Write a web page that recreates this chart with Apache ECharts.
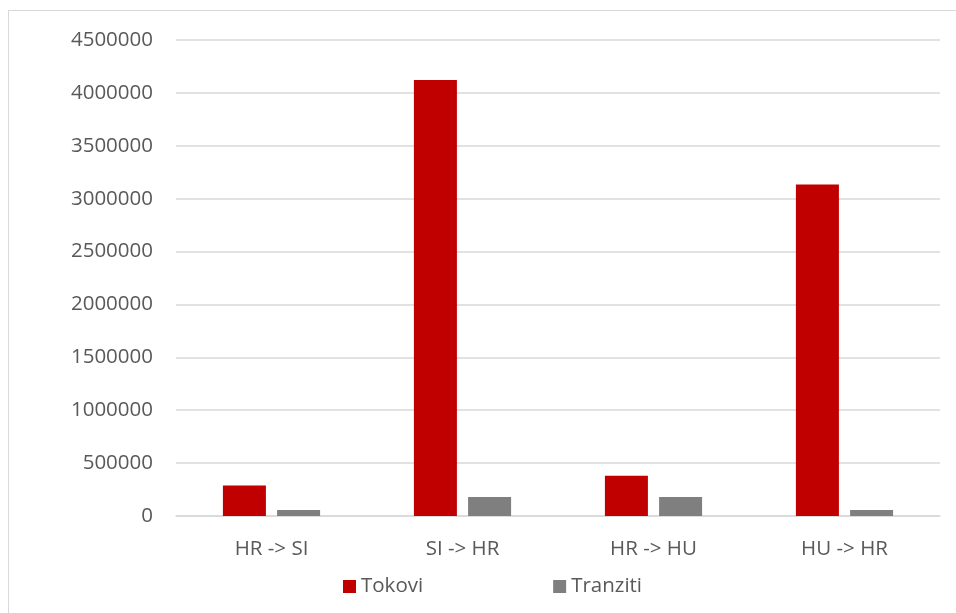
<!DOCTYPE html>
<html>
<head>
<meta charset="utf-8">
<script src="https://cdn.jsdelivr.net/npm/echarts@6/dist/echarts.min.js"></script>
<style>
html,body{margin:0;padding:0;background:#fff;}
#wrap{position:relative;width:956px;height:613px;}
#frame{position:absolute;left:8px;top:10px;width:960px;height:620px;border-left:1.5px solid #d9d9d9;border-top:1.5px solid #d9d9d9;box-sizing:border-box;}
#chart{position:absolute;left:0;top:0;width:956px;height:613px;}
</style>
</head>
<body>
<div id="wrap"><div id="frame"></div><div id="chart"></div></div>
<script>
const categories = ['HR -> SI', 'SI -> HR', 'HR -> HU', 'HU -> HR'];
const tokovi = [288000, 4123000, 380000, 3135000];
const tranziti = [57000, 180000, 180000, 57000];
const seriesNames = ['Tokovi', 'Tranziti'];

const font = '"Open Sans", sans-serif';
const chart = echarts.init(document.getElementById('chart'), null, {renderer: 'canvas'});
chart.setOption({
  animation: false,
  backgroundColor: 'transparent',
  grid: {left: 176, right: 16, top: 40, bottom: 97, containLabel: false},
  legend: {
    data: seriesNames,
    left: 343, top: 576, padding: 0,
    itemWidth: 13, itemHeight: 13, itemGap: 130,
    icon: 'rect',
    textStyle: {color: '#595959', fontSize: 20.5, fontFamily: font, padding: [0, 0, 0, 0]}
  },
  xAxis: {
    type: 'category',
    data: categories,
    axisLine: {show: true, lineStyle: {color: '#d9d9d9', width: 1.5}},
    axisTick: {show: false},
    axisLabel: {color: '#595959', fontSize: 20.5, fontFamily: font, margin: 23}
  },
  yAxis: {
    type: 'value',
    min: 0, max: 4500000, interval: 500000,
    axisLine: {show: false},
    axisTick: {show: false},
    splitLine: {lineStyle: {color: '#d9d9d9', width: 1.5}},
    axisLabel: {color: '#595959', fontSize: 20.5, fontFamily: font, margin: 23, formatter: function (v) { return String(v); }}
  },
  series: [
    {name: seriesNames[0], type: 'bar', data: tokovi, barWidth: 43, barGap: '26%', itemStyle: {color: '#C00000'}},
    {name: seriesNames[1], type: 'bar', data: tranziti, barWidth: 43, barGap: '26%', itemStyle: {color: '#7F7F7F'}}
  ]
});
</script>
</body>
</html>
